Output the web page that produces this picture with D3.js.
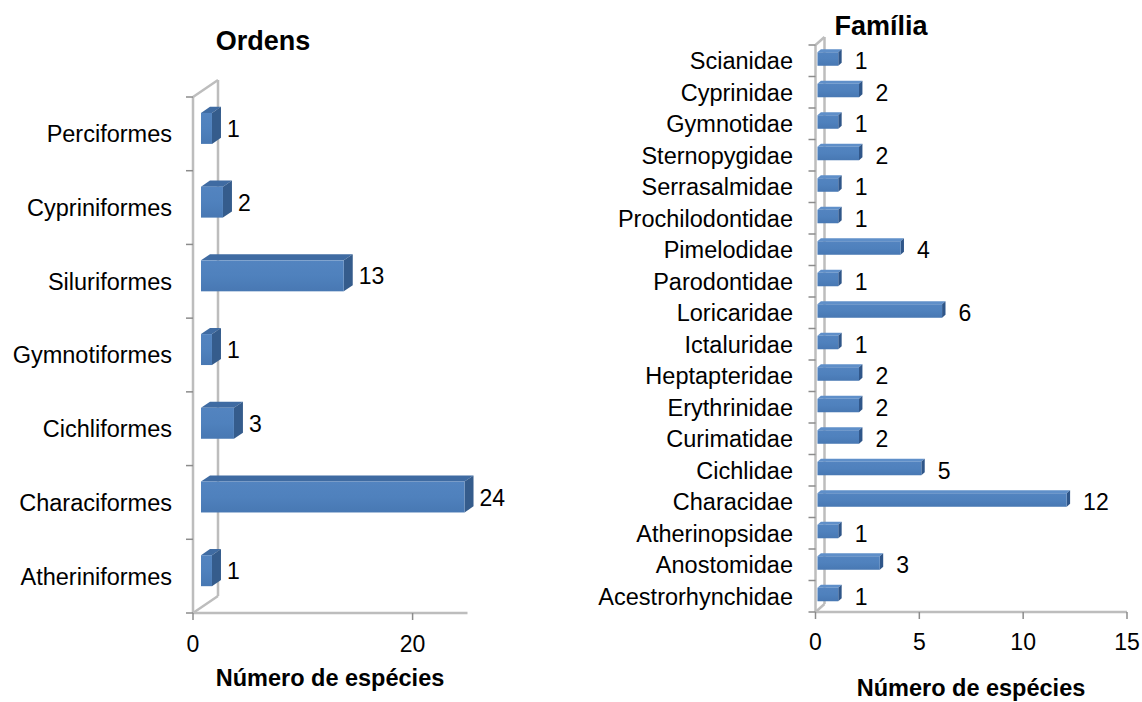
<!DOCTYPE html>
<html>
<head>
<meta charset="utf-8">
<script src="https://cdn.jsdelivr.net/npm/d3@7"></script>
<style>
  html, body { margin: 0; padding: 0; background: #fff; }
  svg { display: block; font-family: "Liberation Sans", Arial, sans-serif; }
</style>
</head>
<body>
<svg id="chart" width="1142" height="702"></svg>
<script>
// Ordens (top to bottom, as shown)
const ordemCategories = ['Perciformes', 'Cypriniformes', 'Siluriformes', 'Gymnotiformes',
  'Cichliformes', 'Characiformes', 'Atheriniformes'];
const ordemValues = [1, 2, 13, 1, 3, 24, 1];
const ordemTicks = [0, 20];

// Família (top to bottom)
const familiaCategories = ['Scianidae', 'Cyprinidae', 'Gymnotidae', 'Sternopygidae', 'Serrasalmidae',
  'Prochilodontidae', 'Pimelodidae', 'Parodontidae', 'Loricaridae', 'Ictaluridae', 'Heptapteridae',
  'Erythrinidae', 'Curimatidae', 'Cichlidae', 'Characidae', 'Atherinopsidae', 'Anostomidae',
  'Acestrorhynchidae'];
const familiaValues = [1, 2, 1, 2, 1, 1, 4, 1, 6, 1, 2, 2, 2, 5, 12, 1, 3, 1];
const familiaTicks = [0, 5, 10, 15];

const axisTitle = 'Número de espécies';

const svg = d3.select('#chart');
const wallColor = '#bdbdbd';

const defs = svg.append('defs');
const grad = defs.append('linearGradient').attr('id', 'front')
  .attr('x1', 0).attr('y1', 0).attr('x2', 0).attr('y2', 1);
grad.append('stop').attr('offset', '0%').attr('stop-color', '#5384c0');
grad.append('stop').attr('offset', '50%').attr('stop-color', '#4f81bd');
grad.append('stop').attr('offset', '100%').attr('stop-color', '#4878b3');

function drawPanel(o) {
  const g = svg.append('g');
  const x = d3.scaleLinear().domain(o.domain).range([o.left, o.right]);
  const y = d3.scaleBand().domain(o.categories).range([o.top, o.bottom]);
  const bw = y.bandwidth();
  const dx = o.dx, dy = o.dy;

  // walls
  const x0 = x(0);
  const line = (x1, y1, x2, y2) => g.append('line')
    .attr('x1', x1).attr('y1', y1).attr('x2', x2).attr('y2', y2)
    .attr('stroke', wallColor).attr('stroke-width', 2.5);
  line(x0, o.top, x0, o.bottom);
  line(x0 + dx, o.top + dy, x0 + dx, o.bottom + dy);
  line(x0, o.top, x0 + dx, o.top + dy);
  line(x0, o.bottom, x0 + dx, o.bottom + dy);
  line(x0, o.bottom, x(o.domain[1]), o.bottom);

  // category ticks
  const bounds = o.categories.map(c => y(c)).concat([o.bottom]);
  g.selectAll('.ytick').data(bounds).join('line')
    .attr('x1', x0 - 7).attr('x2', x0)
    .attr('y1', d => d).attr('y2', d => d)
    .attr('stroke', '#8c8c8c').attr('stroke-width', 1.5);

  // value ticks
  g.selectAll('.xtick').data(o.ticks).join('line')
    .attr('x1', d => x(d)).attr('x2', d => x(d))
    .attr('y1', o.bottom).attr('y2', o.bottom + 7)
    .attr('stroke', '#8c8c8c').attr('stroke-width', 1.5);

  g.selectAll('.xlab').data(o.ticks).join('text')
    .attr('x', d => x(d)).attr('y', o.tickBaseline)
    .attr('text-anchor', 'middle').attr('font-size', 23).attr('fill', '#000')
    .text(d => d);

  // category labels
  g.selectAll('.clab').data(o.categories).join('text')
    .attr('x', o.labelRight)
    .attr('y', d => y(d) + bw / 2 + 0.36 * o.catSize)
    .attr('text-anchor', 'end').attr('font-size', o.catSize).attr('fill', '#000')
    .text(d => d);

  // bars
  const h = bw * o.barFrac;
  const d1 = o.frontDepth, d2 = o.backDepth;
  o.categories.forEach((c, i) => {
    const v = o.values[i];
    const cy = y(c) + bw / 2;
    const yt = cy - h / 2, yb = cy + h / 2;
    const xa = x(0), xb = x(v);
    const P = (px, py, d) => [px + d * dx, py + d * dy];
    const bar = g.append('g');
    bar.append('polygon')
      .attr('points', [P(xa, yt, d1), P(xb, yt, d1), P(xb, yt, d2), P(xa, yt, d2)].join(' '))
      .attr('fill', o.topColor);
    bar.append('polygon')
      .attr('points', [P(xb, yt, d1), P(xb, yt, d2), P(xb, yb, d2), P(xb, yb, d1)].join(' '))
      .attr('fill', o.sideColor);
    bar.append('rect')
      .attr('x', xa + d1 * dx).attr('y', yt + d1 * dy)
      .attr('width', xb - xa).attr('height', h)
      .attr('fill', 'url(#front)');
    g.append('text')
      .attr('x', xb + d2 * dx + o.valueGap)
      .attr('y', cy + o.labelDepth * dy + 0.36 * o.valueSize)
      .attr('font-size', o.valueSize).attr('fill', '#000')
      .text(v);
  });

  // titles
  g.append('text').attr('x', o.titleX).attr('y', o.titleY)
    .attr('text-anchor', 'middle').attr('font-size', 27).attr('font-weight', 'bold')
    .text(o.title);
  g.append('text').attr('x', o.axisTitleX).attr('y', o.axisTitleY)
    .attr('text-anchor', 'middle').attr('font-size', 23.5).attr('font-weight', 'bold')
    .text(axisTitle);
}

drawPanel({
  categories: ordemCategories, values: ordemValues, ticks: ordemTicks,
  domain: [0, 25], left: 193, right: 467.5, top: 97, bottom: 613,
  dx: 25, dy: -17, frontDepth: 0.32, backDepth: 0.68, barFrac: 0.42,
  topColor: '#3f6ba2', sideColor: '#355c8c',
  labelRight: 172, catSize: 23.5, valueSize: 23, valueGap: 6, labelDepth: 0.3,
  tickBaseline: 652, title: 'Ordens', titleX: 263, titleY: 50,
  axisTitleX: 330, axisTitleY: 686
});

drawPanel({
  categories: familiaCategories, values: familiaValues, ticks: familiaTicks,
  domain: [0, 15], left: 815.5, right: 1127, top: 45, bottom: 612,
  dx: 9, dy: -8, frontDepth: 0.22, backDepth: 0.6, barFrac: 0.43,
  topColor: '#5f8fc9', sideColor: '#2f5689',
  labelRight: 793, catSize: 23.5, valueSize: 23, valueGap: 13, labelDepth: 0,
  tickBaseline: 650, title: 'Família', titleX: 881, titleY: 35,
  axisTitleX: 971, axisTitleY: 696
});
</script>
</body>
</html>
